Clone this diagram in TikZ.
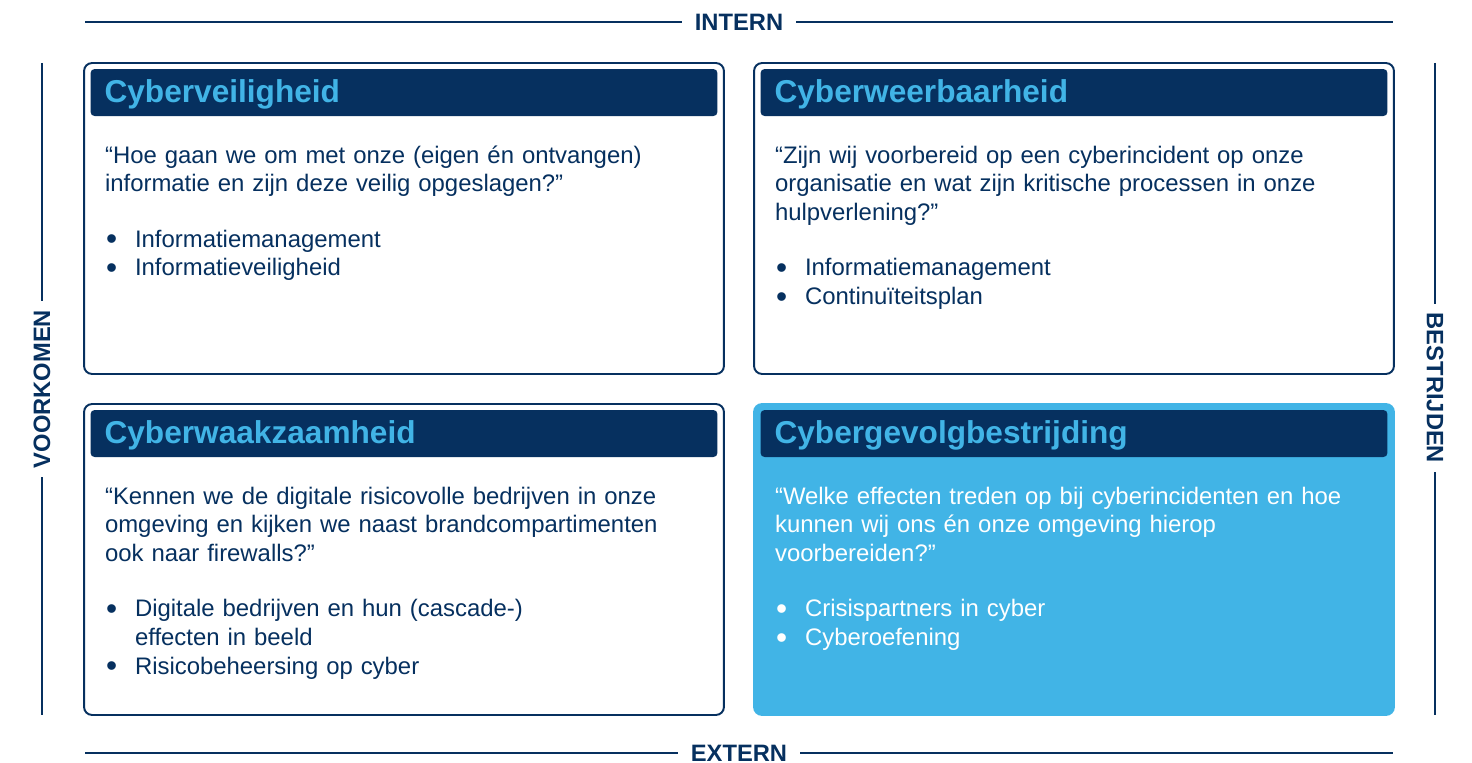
\documentclass[tikz,border=0pt]{standalone}
\usepackage{fontspec}
\setmainfont{Liberation Sans}
\usetikzlibrary{positioning}
\definecolor{navy}{HTML}{06305F}
\definecolor{sky}{HTML}{41B4E6}
\newcommand{\bul}[1]{\makebox[0.6cm][l]{\hspace{0.02cm}\raisebox{-1.3pt}{\fontsize{18}{16}\selectfont\textbullet}}#1}

\begin{document}
\begin{tikzpicture}[x=0.02cm,y=-0.02cm]
\tikzset{card/.style = {shape=rectangle,rounded corners=0.16cm,line width=1.1pt,
                        minimum width=12.8cm,minimum height=6.22cm,inner sep=0pt,outer sep=0pt},
         bar/.style  = {shape=rectangle,rounded corners=0.08cm,fill=navy,text=sky,
                        font=\bfseries\fontsize{18}{20}\selectfont,text width=11.98cm,align=left,
                        text height=13pt,text depth=2pt,
                        inner xsep=0.28cm,inner ysep=0pt,minimum height=0.94cm,outer sep=0pt},
         body/.style = {text width=12cm,align=left,inner sep=0pt,outer sep=0pt,
                        font=\fontsize{13.6}{16.4}\selectfont},
         side/.style = {text=navy,font=\bfseries\fontsize{13.5}{16}\selectfont,
                        inner xsep=0.26cm,inner ysep=0pt,outer sep=0pt},
         rule/.style = {draw=navy,line width=1.2pt}}
\useasboundingbox (0,0) rectangle (1472,763);
% cards
\foreach \name/\x/\y/\bg/\edge/\ink/\title/\body in {
    veilig/404/218.5/white/navy/navy/Cyberveiligheid/{\strut“Hoe gaan we om met onze (eigen én ontvangen)\\informatie en zijn deze veilig opgeslagen?”\\[15pt]\bul{Informatiemanagement}\\\bul{Informatieveiligheid}},
    weerbaar/1074/218.5/white/navy/navy/Cyberweerbaarheid/{\strut“Zijn wij voorbereid op een cyberincident op onze\\organisatie en wat zijn kritische processen in onze\\hulpverlening?”\\[15pt]\bul{Informatiemanagement}\\\bul{Continuïteitsplan}},
    waakzaam/404/559.5/white/navy/navy/Cyberwaakzaamheid/{\strut“Kennen we de digitale risicovolle bedrijven in onze\\omgeving en kijken we naast brandcompartimenten\\ook naar firewalls?”\\[15pt]\bul{Digitale bedrijven en hun (cascade-)}\\\hspace*{0.6cm}effecten in beeld\\\bul{Risicobeheersing op cyber}},
    gevolg/1074/559.5/sky/sky/white/Cybergevolgbestrijding/{\strut“Welke effecten treden op bij cyberincidenten en hoe\\kunnen wij ons én onze omgeving hierop\\voorbereiden?”\\[15pt]\bul{Crisispartners in cyber}\\\bul{Cyberoefening}}} {
    \node[card,fill=\bg,draw=\edge] (\name) at (\x,\y) {};
    \node[bar,below=0.12cm of \name.north] (\name-bar) {\title};
    \node[body,text=\ink,below right=1.6cm and 0.42cm of \name.north west] (\name-body) {\body};
}
% axes
\coordinate (tl) at (85,22);  \coordinate (tr) at (1393,22);
\coordinate (bl) at (85,753); \coordinate (br) at (1393,753);
\coordinate (lt) at (42,63);  \coordinate (lb) at (42,715);
\coordinate (rt) at (1435,63);\coordinate (rb) at (1435,715);
\node[side] (intern) at (739,22) {INTERN};
\node[side] (extern) at (739,753) {EXTERN};
\node[side,rotate=90,inner xsep=0.18cm] (voorkomen) at (42,389) {VOORKOMEN};
\node[side,rotate=-90,inner xsep=0.18cm] (bestrijden) at (1435,388) {BESTRIJDEN};
\draw[rule] (tl) -- (intern) -- (tr);
\draw[rule] (bl) -- (extern) -- (br);
\draw[rule] (lt) -- (voorkomen) -- (lb);
\draw[rule] (rt) -- (bestrijden) -- (rb);
\end{tikzpicture}
\end{document}
